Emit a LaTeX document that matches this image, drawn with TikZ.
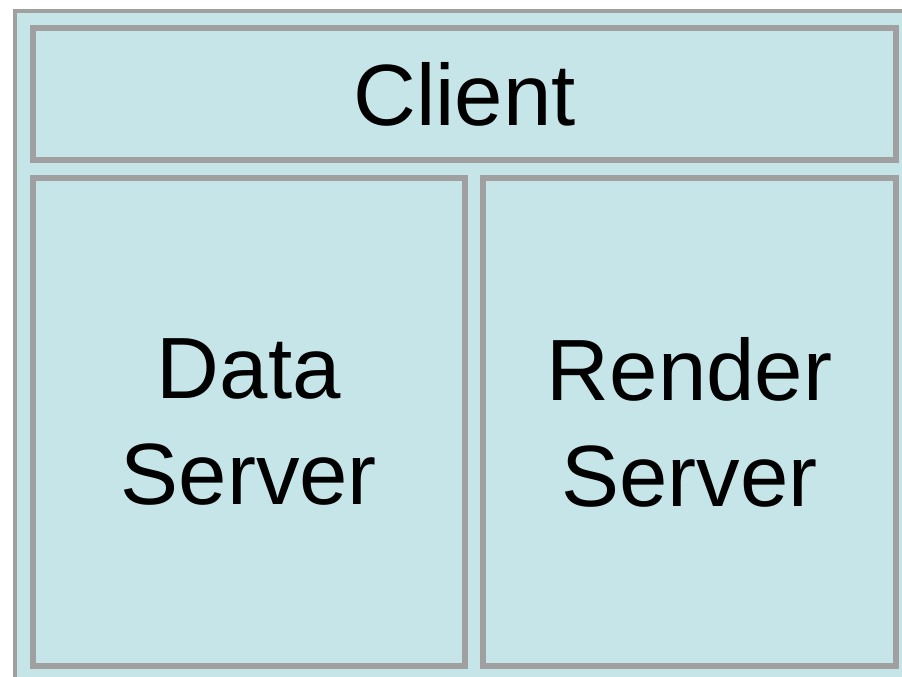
\documentclass[tikz,border=0pt]{standalone}
\usepackage{fontspec}
\setmainfont{Liberation Sans}
\definecolor{archfill}{HTML}{C6E5E8}
\definecolor{archgray}{HTML}{A0A0A0}

\begin{document}
\begin{tikzpicture}[
        x=1pt, y=1pt,
        every node/.style={font=\fontsize{87}{106}\selectfont, text=black},
        frame/.style={
          draw=archgray, line width=4pt, fill=archfill,
        },
        part/.style={
          draw=archgray, line width=6pt,
          fill=archfill, inner sep=0pt,
          align=center,
        },
      ]
      \useasboundingbox (0,0) rectangle (902,677);
      \clip (0,0) rectangle (902,677);
      \node[frame, minimum width=900, minimum height=680, inner sep=0pt] (sys) at (465,326) {};
      \node[part, minimum width=863, minimum height=132] (client) at (464.5,583) {Client};
      \node[part, minimum width=431.5, minimum height=488] (data) at (248.75,255) {Data\\Server};
      \node[part, minimum width=413, minimum height=488] (render) at (689.5,255) {Render\\Server};
    \end{tikzpicture}
\end{document}
